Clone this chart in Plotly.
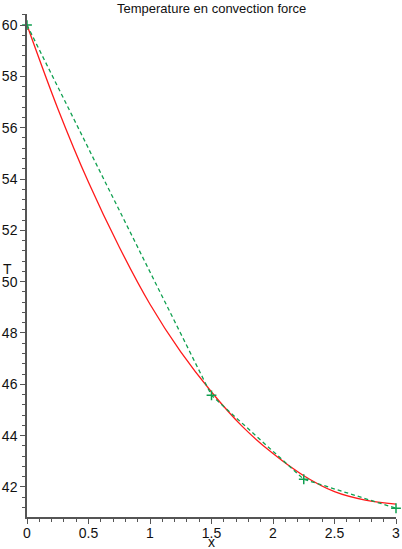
import plotly.graph_objects as go

# Exact solution (red curve)
x_exact = [0, 0.25, 0.5, 0.75, 1.0, 1.25, 1.5, 1.75, 2.0, 2.25, 2.5, 2.75, 3.0]
T_exact = [60.00, 56.75, 53.87, 51.35, 49.12, 47.26, 45.70, 44.36, 43.30, 42.44, 41.82, 41.49, 41.33]

# Numerical approximation (green dashed with + markers)
x_num = [0, 1.5, 2.25, 3.0]
T_num = [60.00, 45.57, 42.30, 41.17]

title_text = "Temperature en convection force"
x_label = "x"
y_label = "T"
x_ticks = [0, 0.5, 1, 1.5, 2, 2.5, 3]
x_ticktext = ["0", "0.5", "1", "1.5", "2", "2.5", "3"]
y_ticks = [42, 44, 46, 48, 50, 52, 54, 56, 58, 60]

RED = "#ff1a1a"
GREEN = "#10a050"
FONT = "Liberation Sans, Arial, sans-serif"

fig = go.Figure()
fig.add_trace(go.Scatter(
    x=x_exact, y=T_exact, mode="lines",
    line=dict(color=RED, width=1.3, shape="spline", smoothing=1.0),
    showlegend=False, hoverinfo="skip", cliponaxis=False))
fig.add_trace(go.Scatter(
    x=x_num, y=T_num, mode="lines+markers",
    line=dict(color=GREEN, width=1.3, dash="4px,3px"),
    marker=dict(symbol="cross-thin", size=7, color=GREEN,
                line=dict(color=GREEN, width=1.5)),
    showlegend=False, hoverinfo="skip", cliponaxis=False))

axis_common = dict(
    showgrid=False, zeroline=False, showline=True,
    linecolor="#555555", linewidth=1.5,
    ticks="outside", ticklen=5, tickwidth=1, tickcolor="#555555",
    tickfont=dict(family=FONT, size=14, color="#111111"),
    ticklabeloverflow="allow",
)

fig.update_layout(
    width=402, height=549,
    margin=dict(l=25, r=2, t=14, b=32),
    paper_bgcolor="white", plot_bgcolor="white",
    font=dict(family=FONT, size=14, color="#111111"),
    xaxis=dict(range=[0, 3.0], tickvals=x_ticks, ticktext=x_ticktext,
               ticklabelstandoff=-3,
               minor=dict(dtick=0.1, tick0=0, ticks="outside", ticklen=3,
                          tickcolor="#555555", showgrid=False),
               **axis_common),
    yaxis=dict(range=[40.83, 60.43], tickvals=y_ticks,
               minor=dict(dtick=0.4, tick0=40, ticks="outside", ticklen=3,
                          tickcolor="#555555", showgrid=False),
               **axis_common),
    annotations=[
        dict(text=title_text, xref="paper", yref="paper", x=0.5, y=1,
             yshift=6, xanchor="center", yanchor="middle", showarrow=False,
             font=dict(family=FONT, size=13, color="#111111")),
        dict(text=x_label, xref="paper", yref="paper", x=0.5, y=0,
             yshift=-25, xanchor="center", yanchor="middle", showarrow=False,
             font=dict(family=FONT, size=14, color="#111111")),
        dict(text=y_label, xref="paper", yref="y", x=0, y=50.5,
             xshift=-20, xanchor="center", yanchor="middle", showarrow=False,
             font=dict(family=FONT, size=14, color="#111111")),
    ],
)

fig.write_html("out.html", config={"displayModeBar": False},
               post_script="document.body.style.margin='0';document.body.style.overflow='hidden';")
